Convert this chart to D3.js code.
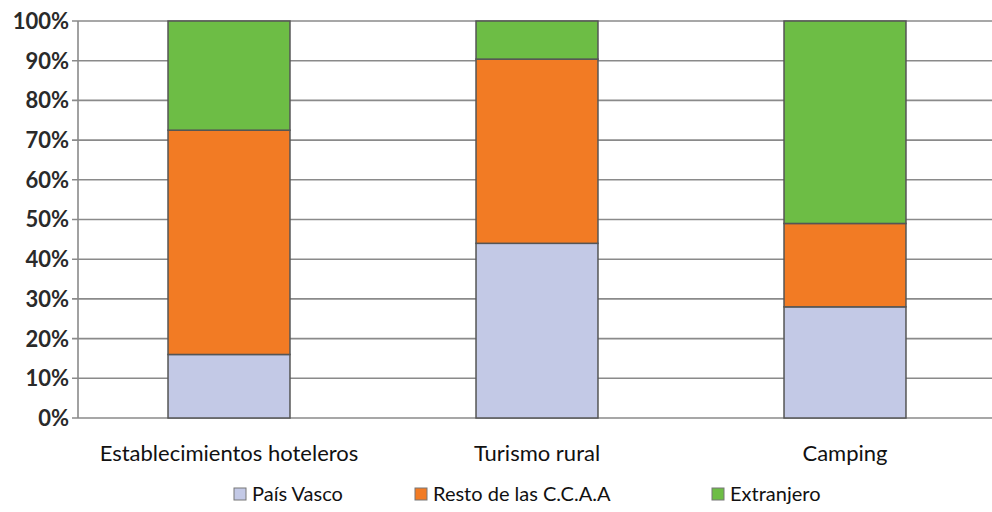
<!DOCTYPE html>
<html><head><meta charset="utf-8">
<script src="https://cdn.jsdelivr.net/npm/d3@7"></script>
<style>body{margin:0;background:#fff}svg{display:block}</style>
</head><body><div id="c"></div>
<script>
const categories = ["Establecimientos hoteleros", "Turismo rural", "Camping"];
const seriesNames = ["País Vasco", "Resto de las C.C.A.A", "Extranjero"];
const paisVasco = [16, 44, 28];
const restoCCAA = [56.5, 46.4, 21];
const extranjero = [27.5, 9.6, 51];
const yTicks = [0, 10, 20, 30, 40, 50, 60, 70, 80, 90, 100];
const colors = ["#c3c9e6", "#f27b24", "#6dbd45"];

const W = 992, H = 512;
const svg = d3.select("#c").append("svg").attr("width", W).attr("height", H);
const font = "Lato, 'Open Sans', sans-serif";

const y = d3.scaleLinear().domain([0, 100]).range([418, 21]);
const x = d3.scaleBand().domain(categories).range([75, 999]).paddingInner(0.604).paddingOuter(0.302);

svg.append("g").selectAll("line").data(yTicks).join("line")
  .attr("x1", 72).attr("x2", W).attr("y1", d => y(d)).attr("y2", d => y(d))
  .attr("stroke", "#8a8a8a").attr("stroke-width", 1.6);
svg.append("line").attr("x1", 78).attr("x2", 78).attr("y1", y(100)).attr("y2", y(0))
  .attr("stroke", "#8a8a8a").attr("stroke-width", 1.6);
svg.append("g").selectAll("text").data(yTicks).join("text")
  .attr("x", 69).attr("y", d => y(d)).attr("dy", "0.36em").attr("text-anchor", "end")
  .attr("font-family", font).attr("font-weight", 700).attr("font-size", 22).attr("fill", "#2a2a2a")
  .text(d => d + "%");

const data = categories.map((c, i) => ({cat: c, a: paisVasco[i], b: restoCCAA[i], c2: extranjero[i]}));
const stack = d3.stack().keys(["a", "b", "c2"])(data);

svg.append("g").selectAll("g").data(stack).join("g").attr("fill", (d, i) => colors[i])
  .selectAll("rect").data(d => d).join("rect")
  .attr("x", d => x(d.data.cat)).attr("width", x.bandwidth())
  .attr("y", d => y(d[1])).attr("height", d => y(d[0]) - y(d[1]))
  .attr("stroke", "#555").attr("stroke-width", 1.5);

svg.append("g").selectAll("text").data(categories).join("text")
  .attr("x", d => x(d) + x.bandwidth() / 2).attr("y", 461).attr("text-anchor", "middle")
  .attr("font-family", font).attr("font-size", 22).attr("fill", "#111")
  .text(d => d);

const legX = [234, 415, 712];
const lg = svg.append("g").selectAll("g").data(seriesNames).join("g")
  .attr("transform", (d, i) => `translate(${legX[i]},494)`);
lg.append("rect").attr("x", 0).attr("y", -6).attr("width", 12).attr("height", 12)
  .attr("fill", (d, i) => colors[i]).attr("stroke", "#777").attr("stroke-width", 1);
lg.append("text").attr("x", 18).attr("dy", "0.36em")
  .attr("font-family", font).attr("font-size", 20).attr("fill", "#111").text(d => d);
</script></body></html>
